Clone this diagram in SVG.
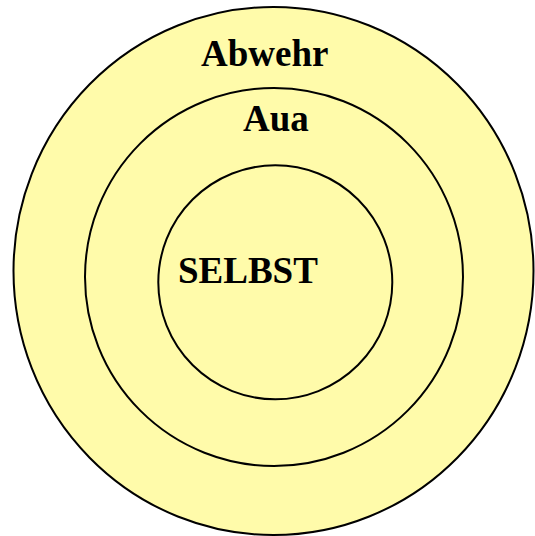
<svg xmlns="http://www.w3.org/2000/svg" width="535" height="536" viewBox="0 0 535 536">
  <style>
    .ring { fill: #FFFBAA; stroke: #000; stroke-width: 2; }
    .label { font-family: "Liberation Serif", "Times New Roman", serif; font-weight: bold; font-size: 37px; fill: #000; }
  </style>
  <rect width="535" height="536" fill="#fff"/>
  <g id="abwehr">
    <ellipse class="ring" cx="273.5" cy="271" rx="260" ry="264"/>
    <text class="label" x="201" y="66">Abwehr</text>
  </g>
  <g id="aua">
    <ellipse class="ring" cx="274" cy="277" rx="189" ry="189"/>
    <text class="label" x="243" y="131">Aua</text>
  </g>
  <g id="selbst">
    <ellipse class="ring" cx="275.3" cy="282.3" rx="117" ry="117"/>
    <text class="label" x="178" y="283">SELBST</text>
  </g>
  <g id="connectors"/>
</svg>
